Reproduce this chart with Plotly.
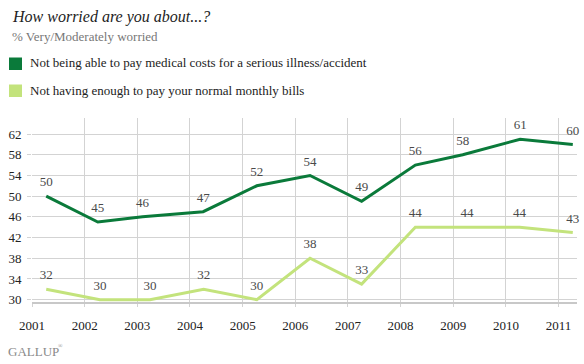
import plotly.graph_objects as go

# ---- data ----
years = [2001, 2002, 2003, 2004, 2005, 2006, 2007, 2008, 2009, 2010, 2011]
year_labels = [str(y) for y in years]
y_ticks = [30, 34, 38, 42, 46, 50, 54, 58, 62]

medical_x = [2001.27, 2002.25, 2003.1, 2004.25, 2005.27, 2006.28, 2007.26, 2008.28, 2009.18, 2010.27, 2011.27]
medical_y = [50, 45, 46, 47, 52, 54, 49, 56, 58, 61, 60]

bills_x = [2001.27, 2002.29, 2003.24, 2004.26, 2005.27, 2006.28, 2007.26, 2008.28, 2009.26, 2010.26, 2011.27]
bills_y = [32, 30, 30, 32, 30, 38, 33, 44, 44, 44, 43]

series_names = [
    "Not being able to pay medical costs for a serious illness/accident",
    "Not having enough to pay your normal monthly bills",
]
title_text = "How worried are you about...?"
subtitle_text = "% Very/Moderately worried"

DARK = "#0a7a3a"
LIGHT = "#c3e37c"
FONT = "Liberation Serif"

fig = go.Figure()
for xs, ys, col, name in [(medical_x, medical_y, DARK, series_names[0]),
                          (bills_x, bills_y, LIGHT, series_names[1])]:
    fig.add_trace(go.Scatter(
        x=xs, y=ys, mode="lines+markers+text", name=name,
        line=dict(color=col, width=3),
        text=[str(v) for v in ys], textposition="top center",
        textfont=dict(family=FONT, size=13, color="#4a4a4a"),
        marker=dict(size=9, opacity=0, color=col),
        showlegend=False, cliponaxis=False, hoverinfo="skip",
    ))

L, R, T, B = 32, 7, 118, 62
W, H = 584, 364
PW, PH = W - L - R, H - T - B

def px(x):
    return (x - L) / PW

def py(y):
    return (H - B - y) / PH

ann = [
    dict(text=title_text, x=px(10), y=py(17),
         font=dict(family=FONT, size=16, color="#222", style="italic"),
         xanchor="left", yanchor="middle"),
    dict(text=subtitle_text, x=px(10), y=py(37), font=dict(family=FONT, size=13, color="#777"),
         xanchor="left", yanchor="middle"),
    dict(text=series_names[0], x=px(28), y=py(63), font=dict(family=FONT, size=13, color="#222"),
         xanchor="left", yanchor="middle"),
    dict(text=series_names[1], x=px(28), y=py(90), font=dict(family=FONT, size=13, color="#222"),
         xanchor="left", yanchor="middle"),
    dict(text="GALLUP", x=px(6), y=py(351), font=dict(family=FONT, size=13, color="#8a8a8a"),
         xanchor="left", yanchor="middle"),
    dict(text="®", x=px(56), y=py(346), font=dict(family=FONT, size=6, color="#8a8a8a"),
         xanchor="left", yanchor="middle"),
]
for a in ann:
    a.update(xref="paper", yref="paper", showarrow=False)

shapes = [
    dict(type="rect", xref="paper", yref="paper", x0=px(9), x1=px(22), y0=py(57.5), y1=py(70),
         fillcolor=DARK, line=dict(width=0)),
    dict(type="rect", xref="paper", yref="paper", x0=px(9), x1=px(22), y0=py(84.5), y1=py(97),
         fillcolor=LIGHT, line=dict(width=0)),
]

fig.update_layout(
    width=W, height=H,
    margin=dict(l=L, r=R, t=T, b=B, autoexpand=False),
    paper_bgcolor="white", plot_bgcolor="white",
    annotations=ann, shapes=shapes,
    font=dict(family=FONT, size=13, color="#222"),
)
fig.update_xaxes(
    range=[2001, 2011.35], tickmode="array", tickvals=years, ticktext=year_labels,
    showgrid=True, gridcolor="#d3d3d3", gridwidth=1,
    showline=True, linecolor="#c8c8c8", linewidth=2,
    ticks="outside", ticklen=3, tickcolor="#d3d3d3", ticklabelstandoff=7,
    tickfont=dict(family=FONT, size=13, color="#222"), zeroline=False,
)
fig.update_yaxes(
    range=[29.55, 65.1], tickmode="array", tickvals=y_ticks,
    showgrid=True, gridcolor="#d3d3d3", gridwidth=1,
    showline=False,
    ticks="outside", ticklen=4, tickcolor="#d3d3d3", ticklabelstandoff=3,
    tickfont=dict(family=FONT, size=13, color="#222"), zeroline=False,
)

fig.write_html("out.html", config={"displayModeBar": False},
               post_script="document.body.style.margin='0';document.body.style.padding='0';")
